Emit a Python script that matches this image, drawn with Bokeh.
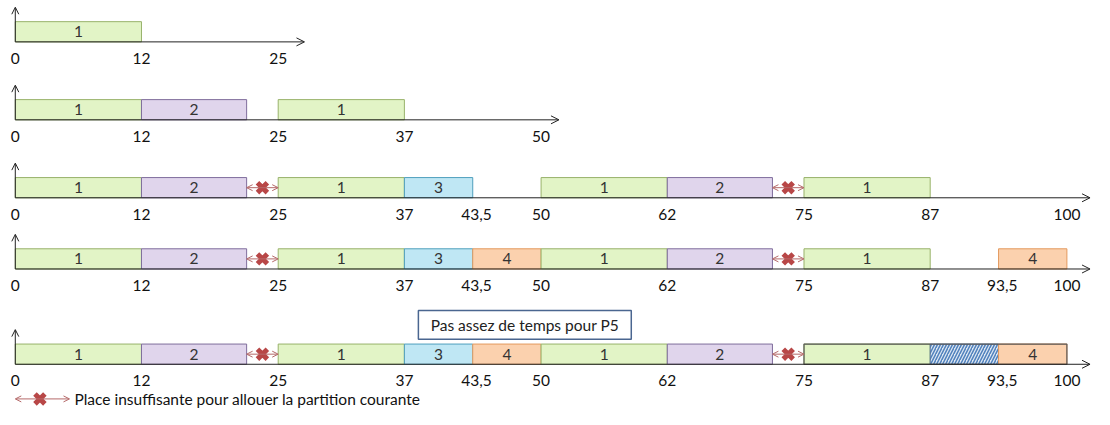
from bokeh.plotting import figure
from bokeh.models import Range1d, ColumnDataSource, Arrow, OpenHead
from bokeh.core.properties import value
from bokeh.embed import file_html
from bokeh.resources import INLINE

# ---------------- data ----------------
# segments per row: (start, end, label, kind)
row1 = [(0, 12, "1", "g")]
row2 = [(0, 12, "1", "g"), (12, 22, "2", "p"), (25, 37, "1", "g")]
row3 = [(0, 12, "1", "g"), (12, 22, "2", "p"), (25, 37, "1", "g"), (37, 43.5, "3", "b"),
        (50, 62, "1", "g"), (62, 72, "2", "p"), (75, 87, "1", "g")]
row4 = [(0, 12, "1", "g"), (12, 22, "2", "p"), (25, 37, "1", "g"), (37, 43.5, "3", "b"),
        (43.5, 50, "4", "o"), (50, 62, "1", "g"), (62, 72, "2", "p"), (75, 87, "1", "g"),
        (93.5, 100, "4", "o")]
row5 = [(0, 12, "1", "g"), (12, 22, "2", "p"), (25, 37, "1", "g"), (37, 43.5, "3", "b"),
        (43.5, 50, "4", "o"), (50, 62, "1", "g"), (62, 72, "2", "p"), (75, 87, "1", "g"),
        (87, 93.5, "", "h"), (93.5, 100, "4", "o")]
rows = [row1, row2, row3, row4, row5]

ticks1 = [0, 12, 25]
ticks2 = [0, 12, 25, 37, 50]
ticks3 = [0, 12, 25, 37, 43.5, 50, 62, 75, 87, 100]
ticks4 = [0, 12, 25, 37, 43.5, 50, 62, 75, 87, 93.5, 100]
ticks5 = [0, 12, 25, 37, 43.5, 50, 62, 75, 87, 93.5, 100]
ticks = [ticks1, ticks2, ticks3, ticks4, ticks5]

# insufficient-space gaps per row: (from, to)
gaps = [[], [], [(22, 25), (72, 75)], [(22, 25), (72, 75)], [(22, 25), (72, 75)]]

axis_end = [27.5, 51.7, 102.2, 102.2, 102.2]

note_text = "Pas assez de temps pour P5"
legend_text = "Place insuffisante pour allouer la partition courante"

# ---------------- layout / style ----------------
row_y = [43, 124, 205, 279, 378]   # axis position (reference pixel coords)
bar_h = 21
fills = {"g": "#e2f4c6", "p": "#e0d5ec", "b": "#bfe7f4", "o": "#fbd1ae", "h": "#dce6f2"}
lines = {"g": "#98b26a", "p": "#7f6d9c", "b": "#4f9fbd", "o": "#e39a5e", "h": "#4f6f9a"}
FONT = value("Lato")
FS = "15.5px"
PX = 10.67
X0 = 15.0   # reference pixel of value 0


def ux(px):
    return (px - X0) / PX


p = figure(width=1094, height=409, output_backend="svg", toolbar_location=None,
           x_range=Range1d(ux(0), ux(1110)), y_range=Range1d(425, 0),
           min_border=0)
p.axis.visible = False
p.grid.visible = False
p.outline_line_color = None
p.background_fill_color = "white"

L, R, B, T, FC, LC, HP = [], [], [], [], [], [], []
lx, ly, lt = [], [], []
tx, ty, tt = [], [], []
for i, row in enumerate(rows):
    y = row_y[i]
    for (s, e, lab, k) in row:
        L.append(s); R.append(e); B.append(y); T.append(y - bar_h)
        FC.append(fills[k]); LC.append(lines[k]); HP.append("/" if k == "h" else " ")
        if lab:
            lx.append((s + e) / 2); ly.append(y - bar_h / 2); lt.append(lab)
    for t in ticks[i]:
        tx.append(t + (0.35 if t % 1 else 0)); ty.append(y + 17)
        tt.append(("%g" % t).replace(".", ","))

# axes
for i in range(5):
    y = row_y[i]
    p.add_layout(Arrow(end=OpenHead(size=8, line_width=1, line_color="#222"),
                       x_start=0, y_start=y, x_end=axis_end[i], y_end=y,
                       line_color="#222", line_width=1))
    p.add_layout(Arrow(end=OpenHead(size=7, line_width=1, line_color="#222"),
                       x_start=0, y_start=y, x_end=0, y_end=y - 36,
                       line_color="#222", line_width=1))

src = ColumnDataSource(dict(left=L, right=R, bottom=B, top=T, fc=FC, lc=LC, hp=HP))
p.quad(left="left", right="right", bottom="bottom", top="top", source=src,
       fill_color="fc", line_color="lc", line_width=1,
       hatch_pattern="hp", hatch_color="#4f81bd", hatch_scale=6, hatch_weight=1.5)

# outline of final group in last row
p.quad(left=[75], right=[100], bottom=[row_y[4]], top=[row_y[4] - bar_h],
       fill_color=None, line_color="#5a5a5a", line_width=1.2)

p.text(x=lx, y=ly, text=lt, text_font=FONT, text_font_size=FS,
       text_align="center", text_baseline="middle", text_color="#333333")
p.text(x=tx, y=ty, text=tt, text_font=FONT, text_font_size=FS,
       text_align="center", text_baseline="middle", text_color="#111111")

# insufficient space markers
cx, cy = [], []
for i, gl in enumerate(gaps):
    for (a, b) in gl:
        y = row_y[i] - bar_h / 2
        p.add_layout(Arrow(start=OpenHead(size=6, line_width=1, line_color="#b56a6a"),
                           end=OpenHead(size=6, line_width=1, line_color="#b56a6a"),
                           x_start=a, y_start=y, x_end=b, y_end=y,
                           line_color="#b56a6a", line_width=1))
        cx.append((a + b) / 2); cy.append(y)
p.scatter(x=cx, y=cy, marker="x", size=14, line_width=5, line_color="#b84747")

# note box
p.quad(left=[ux(424)], right=[ux(640)], top=[322], bottom=[352],
       fill_color="white", line_color="#4a6690", line_width=1.5)
p.text(x=[ux(532)], y=[337], text=[note_text], text_font=FONT,
       text_font_size=FS, text_align="center", text_baseline="middle",
       text_color="#222222")

# legend
ly0 = 414
p.add_layout(Arrow(start=OpenHead(size=6, line_width=1, line_color="#b56a6a"),
                   end=OpenHead(size=6, line_width=1, line_color="#b56a6a"),
                   x_start=0, y_start=ly0, x_end=ux(70), y_end=ly0,
                   line_color="#b56a6a", line_width=1))
p.scatter(x=[ux(40)], y=[ly0], marker="x", size=14, line_width=5,
          line_color="#b84747")
p.text(x=[ux(75)], y=[ly0], text=[legend_text], text_font=FONT,
       text_font_size=FS, text_align="left", text_baseline="middle",
       text_color="#111111")

open("out.html", "w").write(file_html(p, INLINE))
